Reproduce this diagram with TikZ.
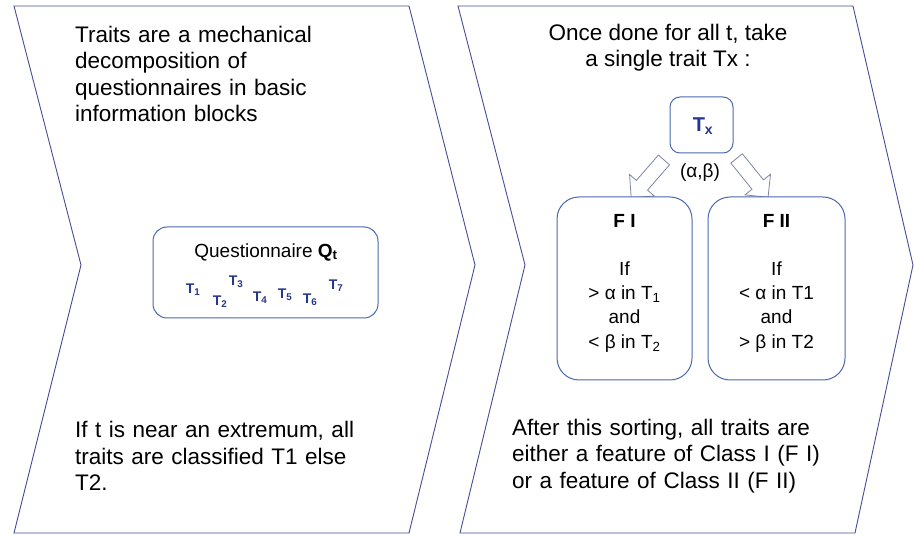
\documentclass[tikz,border=0pt]{standalone}
\usepackage{fontspec}
\setmainfont{Liberation Sans}
\usetikzlibrary{shapes.arrows}
\definecolor{chevline}{RGB}{70,78,150}
\definecolor{boxline}{RGB}{75,105,175}
\definecolor{traitblue}{RGB}{35,55,140}
\definecolor{arrowgray}{RGB}{125,135,160}

\begin{document}
\begin{tikzpicture}[x=1pt, y=-1pt,
    chev/.style={draw=chevline, line width=0.9pt, fill=white, line join=miter},
    bodytext/.style={font=\fontsize{22.5}{26.3}\selectfont, inner sep=0pt},
    rbox/.style={draw=boxline, line width=1pt, fill=white},
    boxtext/.style={font=\fontsize{19}{24.2}\selectfont, align=center, inner sep=0pt},
    tlabel/.style={font=\fontsize{14}{16}\selectfont\bfseries, text=traitblue, inner sep=0pt},
    hollowarrow/.style={single arrow, draw=arrowgray, line width=0.8pt, fill=white,
        minimum height=50pt, inner xsep=0pt, inner ysep=7pt, single arrow head extend=9pt}]
    \useasboundingbox (0,0) rectangle (914,537);
    \fill[white] (0,0) rectangle (914,537);

    % Chevrons
    \draw[chev] (14,6) -- (409,6) -- (475,265) -- (409,533) -- (14,533) -- (81,265) -- cycle;
    \draw[chev] (458,6) -- (853,6) -- (913,265) -- (855,533) -- (460,533) -- (525,265) -- cycle;

    % Left panel texts
    \node[bodytext, text width=300pt, align=left, anchor=west] (intro) at (75,74)
        {Traits are a mechanical\\decomposition of\\questionnaires in basic\\information blocks};
    \node[bodytext, text width=300pt, align=left, anchor=west] (rule) at (75,456)
        {If t is near an extremum, all\\traits are classified T1 else\\T2.};

    % Questionnaire box and its traits
    \node[rbox, rounded corners=14pt, minimum width=225pt, minimum height=91pt] (quest) at (265.5,272.5) {};
    \node[boxtext] (qtitle) at (266,252) {Questionnaire \textbf{Q\textsubscript{t}}};
    \node[tlabel] (t1) at (193,290) {T\textsubscript{1}};
    \node[tlabel] (t2) at (220,302) {T\textsubscript{2}};
    \node[tlabel] (t3) at (236,282) {T\textsubscript{3}};
    \node[tlabel] (t4) at (260,298) {T\textsubscript{4}};
    \node[tlabel] (t5) at (285,295) {T\textsubscript{5}};
    \node[tlabel] (t6) at (310,300) {T\textsubscript{6}};
    \node[tlabel] (t7) at (336,286) {T\textsubscript{7}};

    % Right panel texts
    \node[bodytext, align=center] (once) at (668,48)
        {Once done for all t, take\\a single trait Tx :};
    \node[bodytext, text width=330pt, align=left, anchor=west] (sorting) at (512,456)
        {After this sorting, all traits are\\either a feature of Class I (F I)\\or a feature of Class II (F II)};

    % Single trait and its two classes
    \node[rbox, rounded corners=10pt, minimum width=63pt, minimum height=56pt] (tx) at (701.5,125) {};
    \node[font=\fontsize{20}{22}\selectfont\bfseries, text=traitblue, inner sep=0pt] (txlabel) at (703,126) {T\textsubscript{x}};
    \node[hollowarrow, rotate=229] (arrl) at (650,176) {};
    \node[hollowarrow, rotate=-51] (arrr) at (750,175) {};
    \node[boxtext] (ab) at (700,173) {(α,β)};

    \node[rbox, rounded corners=22pt, minimum width=135pt, minimum height=183pt] (f1) at (624.5,288.5) {};
    \node[rbox, rounded corners=22pt, minimum width=137pt, minimum height=183pt] (f2) at (776.5,288.5) {};
    \node[boxtext] (f1text) at (624.5,283)
        {\textbf{F I}\\[24.2pt]If\\> α in T\textsubscript{1}\\and\\< β in T\textsubscript{2}};
    \node[boxtext] (f2text) at (776.5,283)
        {\textbf{F II}\\[24.2pt]If\\< α in T1\\and\\> β in T2};
\end{tikzpicture}
\end{document}
